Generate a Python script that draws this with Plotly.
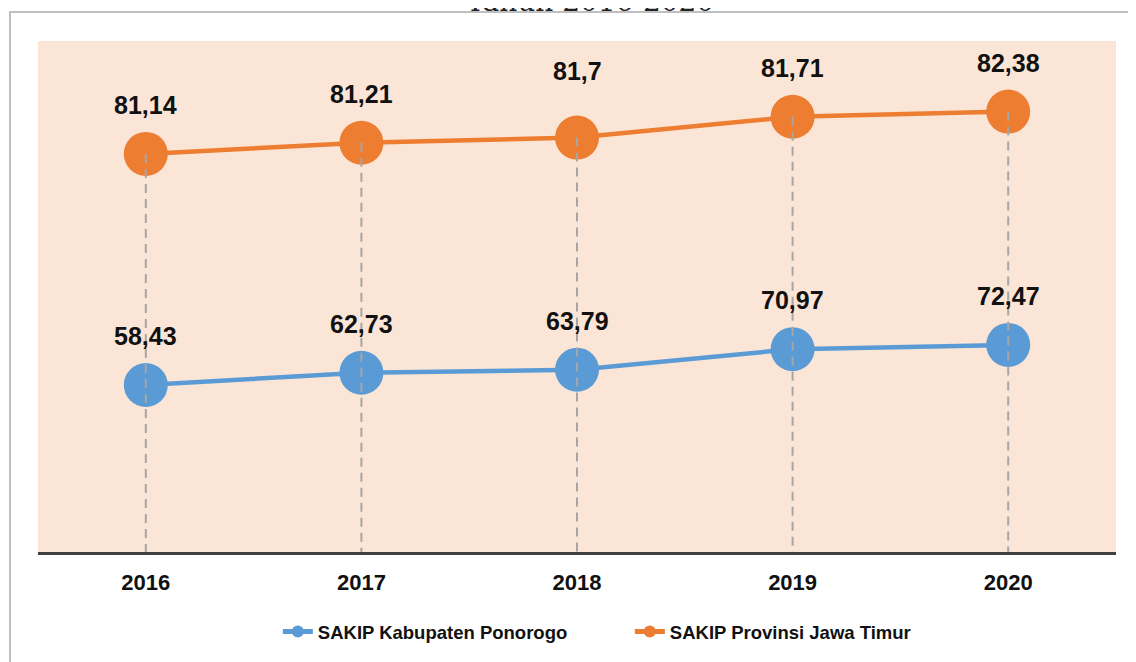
import plotly.graph_objects as go

# ---- data ----
years = ["2016", "2017", "2018", "2019", "2020"]
kabupaten_values = [58.43, 62.73, 63.79, 70.97, 72.47]
provinsi_values = [81.14, 81.21, 81.70, 81.71, 82.38]
# heights at which the source chart actually draws the Provinsi points
# (read off the picture on the same scale as the Kabupaten series)
provinsi_drawn = [139.3, 143.2, 145.0, 152.3, 154.1]
series_names = ["SAKIP Kabupaten Ponorogo", "SAKIP Provinsi Jawa Timur"]
title_text = "Tahun 2016-2020"

BLUE = "#5B9BD5"
ORANGE = "#ED7D31"
LABEL_FONT = dict(family="Liberation Sans, Arial, sans-serif", size=25,
                  color="#111111", weight="bold")


def fmt(v):
    s = f"{v:.2f}".rstrip("0").rstrip(".")
    return s.replace(".", ",")


fig = go.Figure()

fig.add_trace(go.Scatter(
    x=years, y=kabupaten_values, name=series_names[0], mode="lines+markers",
    line=dict(color=BLUE, width=4.5), marker=dict(color=BLUE, size=44),
    hoverinfo="skip"))
fig.add_trace(go.Scatter(
    x=years, y=provinsi_drawn, name=series_names[1], mode="lines+markers",
    line=dict(color=ORANGE, width=4.5), marker=dict(color=ORANGE, size=44),
    hoverinfo="skip"))

# dashed drop lines from the upper series to the axis (drawn over markers)
dx, dy = [], []
for yr, v in zip(years, provinsi_drawn):
    dx += [yr, yr, None]
    dy += [v, 0, None]
fig.add_trace(go.Scatter(
    x=dx, y=dy, mode="lines", showlegend=False, hoverinfo="skip",
    line=dict(color="#A6A6A6", width=2, dash="9px,6px")))

annotations = []
for i, v in enumerate(kabupaten_values):
    annotations.append(dict(xref="x", yref="y", x=i, y=v, text=fmt(v),
                            showarrow=False, yanchor="middle", yshift=49,
                            font=LABEL_FONT))
for i, (v, h) in enumerate(zip(provinsi_values, provinsi_drawn)):
    annotations.append(dict(xref="x", yref="y", x=i, y=h, text=fmt(v),
                            showarrow=False, yanchor="middle",
                            yshift=67 if i == 2 else 49, font=LABEL_FONT))
annotations.append(dict(xref="paper", yref="paper", x=0.512, y=1,
                        xanchor="center", yanchor="bottom", yshift=21,
                        text=title_text, showarrow=False,
                        font=dict(family="DejaVu Serif, serif", size=28, color="#222222")))

fig.update_layout(
    width=1128, height=654,
    margin=dict(l=30, r=20, t=33, b=110),
    paper_bgcolor="white", plot_bgcolor="#FBE5D6",
    showlegend=True,
    legend=dict(orientation="h", xref="paper", x=0.549, xanchor="center",
                yref="container", y=0.0459, yanchor="middle",
                itemsizing="constant", entrywidth=307, entrywidthmode="pixels",
                font=dict(family="Liberation Sans, Arial, sans-serif",
                          size=18.5, color="#111111", weight="bold"),
                bgcolor="rgba(0,0,0,0)"),
    annotations=annotations,
    shapes=[dict(type="rect", xref="paper", yref="paper",
                 x0=-0.026, x1=1.05, y0=-0.4, y1=1.0568,
                 line=dict(color="#BFBFBF", width=2), layer="above")],
)
fig.update_xaxes(type="category", range=[-0.5, 4.5], showgrid=False,
                 showline=True, linecolor="#404040", linewidth=3,
                 ticks="", ticklabelstandoff=9, zeroline=False,
                 tickfont=dict(family="Liberation Sans, Arial, sans-serif",
                               size=22, color="#111111", weight="bold"))
fig.update_yaxes(range=[0, 178.8], showticklabels=False, showline=False,
                 ticks="", showgrid=False, zeroline=False)

fig.write_html("out.html")
